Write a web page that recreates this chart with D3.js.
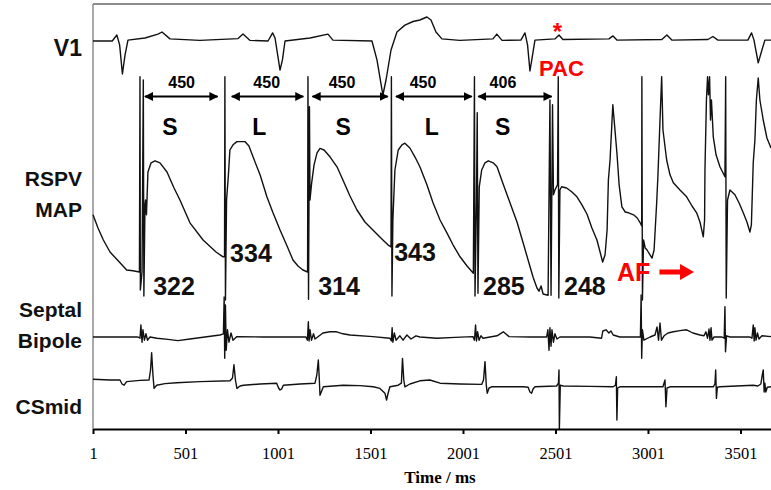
<!DOCTYPE html>
<html>
<head>
<meta charset="utf-8">
<script src="https://cdn.jsdelivr.net/npm/d3@7"></script>
<style>
    body { margin: 0; background: #fff; }
    .lbl { font-family: "Liberation Sans", Arial, sans-serif; font-weight: bold; }
    .axis text { font-family: "Liberation Serif", "Times New Roman", serif; font-weight: normal; }
    .axis-title { font-family: "Liberation Serif", "Times New Roman", serif; font-weight: bold; }
</style>
</head>
<body>
<div id="chart"></div>
<script>

/* * * * * * * * * * * * * *
*      Trace data (ms, mV)  *
* * * * * * * * * * * * * */

// surface ECG lead V1
const v1Trace = [[1,0],[105,0],[130,0.2],[145,-0.13],[160,-1.1],[174,-0.47],[190,0.03],[282,0.1],[352,0.23],[374,0.3],
    [417,0.07],[579,0.02],[785,0.08],[812,0.23],[850,0.02],[947,0],[972,0.27],[985,0.1],[1012,-0.97],[1025,-0.63],
    [1039,0],[1174,0.1],[1271,0.23],[1298,0.03],[1509,0],[1536,-0.63],[1568,-1.8],[1585,-1.3],[1612,-0.3],[1644,0.3],
    [1687,0.53],[1731,0.65],[1768,0.7],[1806,0.8],[1828,0.7],[1855,0.3],[1887,0.07],[1984,0.02],[2163,0.07],[2184,0.23],
    [2212,0.02],[2314,0.03],[2336,0.27],[2350,-0.13],[2363,-1.0],[2377,-0.47],[2390,0.03],[2498,0.07],[2520,0.2],[2541,0.05],
    [2790,0.07],[2812,0.17],[2833,0.03],[3076,0.05],[3103,0.2],[3130,0.03],[3325,0.05],[3352,0.15],[3379,0.03],[3541,0.03],
    [3561,0.27],[3574,0.03],[3597,-0.73],[3617,-0.3],[3633,0.03],[3666,0.03]];

// right superior pulmonary vein monophasic action potential
const mapTrace = [[1,1.43],[28,1.1],[57,0.8],[93,0.5],[147,0.23],[183,0.05],[217,0.03],[252,0],
    [255,4.88],[257,-0.45],[266,0],[273,4.8],[276,-0.6],[282,1.68],[285,1.8],[290,1.43],[298,2.5],[315,2.73],[336,2.78],
    [363,2.73],[401,2.5],[439,2.1],[471,1.8],[525,1.23],[596,0.8],[666,0.5],[704,0.38],[712,0.38],
    [714,4.88],[717,-0.7],[723,1.8],[733,2.43],[741,3.05],[758,3.18],[779,3.26],[822,3.26],[844,3.15],[866,2.88],
    [904,2.43],[941,1.88],[974,1.48],[1012,1.05],[1050,0.65],[1082,0.3],[1109,0.15],[1136,0.05],[1161,0],
    [1163,4.88],[1166,-0.68],[1171,4.13],[1174,1.8],[1183,2.23],[1196,2.68],[1212,2.98],[1228,3.09],[1250,3.05],
    [1282,2.88],[1320,2.63],[1352,2.3],[1390,1.9],[1428,1.55],[1471,1.25],[1514,1.05],[1557,0.85],[1595,0.68],[1612,0.63],
    [1614,4.88],[1617,-0.6],[1622,1.3],[1633,2.55],[1651,3.05],[1671,3.18],[1687,3.22],[1714,3.1],[1741,2.88],[1768,2.63],
    [1806,2.18],[1839,1.73],[1877,1.3],[1914,0.98],[1947,0.68],[1985,0.38],[2023,0.15],[2057,-0.03],
    [2063,4.88],[2066,-0.6],[2074,1.8],[2078,3.98],[2082,-0.53],[2089,2.13],[2102,2.55],[2120,2.73],[2138,2.78],
    [2164,2.73],[2185,2.63],[2218,2.2],[2255,1.73],[2293,1.25],[2326,0.73],[2353,0.3],[2380,-0.13],[2401,-0.4],
    [2412,-0.48],[2423,-0.35],[2434,-0.55],[2461,-0.58],[2471,4.3],[2477,-0.58],[2485,4.18],[2490,1.93],[2498,2.05],
    [2512,2.18],[2516,4.88],[2519,-0.65],[2525,2.05],[2534,2.13],[2561,2.1],[2590,2.0],[2617,1.88],[2644,1.68],
    [2671,1.45],[2698,1.1],[2725,0.8],[2742,0.5],[2756,0.25],[2769,0.43],[2780,1.05],[2787,2.3],[2796,2.8],[2811,4.18],
    [2818,3.8],[2833,2.98],[2845,2.18],[2860,1.63],[2878,1.5],[2896,1.48],[2923,1.43],[2943,1.35],[2959,1.23],[2967,1.15],
    [2968,4.88],[2971,-0.7],[2977,0.8],[2986,0.6],[2996,0.55],[3012,0.43],[3023,0.35],[3034,0.55],[3048,1.73],[3055,2.43],
    [3066,3.8],[3075,4.88],[3082,3.55],[3102,2.8],[3120,2.43],[3138,2.23],[3174,2.05],[3210,1.88],[3239,1.65],[3264,1.48],
    [3282,1.25],[3300,0.88],[3307,1.3],[3309,2.55],[3317,4.3],[3323,4.88],[3328,4.43],[3334,4.88],[3339,3.8],[3344,4.3],
    [3354,3.38],[3369,2.93],[3390,2.63],[3417,2.38],[3421,4.88],[3424,-0.65],[3431,1.8],[3444,2.05],[3471,1.93],
    [3493,1.73],[3516,1.48],[3536,1.25],[3552,1.0],[3560,1.18],[3570,2.73],[3579,3.3],[3587,4.3],[3597,4.85],[3606,4.3],
    [3624,3.8],[3644,3.35],[3666,3.1]];

// septal bipolar electrogram
const septalTrace = [[1,0],[174,0],[244,0],[255,-0.03],[260,0.3],[266,-0.13],[271,0.18],[279,-0.08],[287,0.08],[296,-0.08],
    [309,0],[347,-0.03],[406,-0.06],[460,-0.09],[525,-0.05],[606,0],[687,0.05],[706,0.08],[710,1.0],[713,-0.53],[717,0.8],
    [721,-0.33],[728,0.18],[736,-0.13],[747,0.1],[758,-0.08],[779,0.01],[920,0],[1066,0],[1152,0],[1160,-0.08],[1165,0.38],
    [1169,-0.1],[1174,0.18],[1182,-0.08],[1193,0.08],[1201,-0.05],[1244,0.1],[1282,0.13],[1318,0.13],[1352,0.08],[1390,0.05],
    [1514,0.01],[1606,-0.03],[1614,-0.1],[1618,0.23],[1622,-0.13],[1630,0.1],[1639,-0.08],[1660,0.03],[1677,-0.08],[1698,0.05],
    [1720,-0.05],[1747,0.03],[1768,0],[1860,-0.03],[1958,-0.01],[2055,0.01],[2063,-0.08],[2069,0.3],[2074,-0.1],[2080,0.13],
    [2088,-0.08],[2098,0.03],[2109,-0.03],[2185,0.03],[2219,0.13],[2250,0.01],[2364,0],[2453,0],[2460,0.18],[2466,-0.33],
    [2471,0.23],[2477,-0.23],[2482,0.18],[2490,-0.13],[2498,0.08],[2509,-0.05],[2525,0],[2687,0],[2750,-0.03],[2757,0.15],
    [2774,0.18],[2790,0.1],[2801,0.15],[2813,0.05],[2849,0],[2939,0],[2960,0],[2964,1.05],[2967,-0.53],[2971,0.18],
    [2979,-0.08],[3012,0],[3039,0.05],[3050,0.25],[3058,-0.08],[3066,0.35],[3074,-0.08],[3088,0.03],[3109,0.1],[3138,0.13],
    [3174,0.16],[3210,0.18],[3244,0.1],[3282,0.05],[3304,0.03],[3314,0.13],[3323,-0.03],[3331,0.2],[3336,-0.08],[3342,0.23],
    [3347,-0.08],[3358,0],[3401,0],[3413,-0.03],[3417,0.76],[3420,-0.37],[3426,0.03],[3444,0],[3552,0],[3563,-0.03],
    [3570,0.3],[3575,-0.1],[3579,0.23],[3585,-0.08],[3593,0.1],[3601,-0.05],[3617,0.03],[3666,0.01]];

// coronary sinus (mid) bipolar electrogram
const csTrace = [[1,0.07],[93,0.05],[147,0.05],[158,-0.05],[169,-0.08],[183,0.01],[255,0.04],[304,0.05],[312,0.3],[318,0.73],
    [325,0.18],[331,-0.16],[345,-0.08],[390,-0.04],[453,-0.02],[579,0.01],[742,0.03],[755,0.1],[763,0.43],[771,0.05],
    [779,-0.16],[796,-0.1],[815,-0.08],[904,-0.05],[994,-0.03],[1004,-0.15],[1012,-0.2],[1020,-0.18],[1030,-0.08],
    [1120,-0.05],[1201,-0.03],[1211,0.18],[1219,0.55],[1224,0.1],[1228,-0.33],[1246,-0.12],[1354,-0.08],[1444,-0.09],
    [1516,-0.12],[1552,-0.16],[1579,-0.28],[1588,-0.45],[1595,-0.3],[1606,-0.12],[1651,-0.08],[1668,-0.03],[1674,0.59],
    [1681,0.05],[1687,-0.12],[1714,-0.05],[1768,0.03],[1822,0.05],[1877,-0.03],[1985,-0.05],[2102,-0.06],[2112,0.05],
    [2120,0.51],[2127,-0.08],[2132,-0.28],[2142,-0.15],[2156,-0.12],[2327,-0.12],[2353,-0.13],[2363,-0.25],[2372,-0.28],
    [2379,-0.18],[2390,-0.12],[2507,-0.1],[2517,-0.03],[2520,0.3],[2522,-1.18],[2527,-0.08],[2543,-0.1],[2687,-0.11],
    [2813,-0.12],[2825,-0.08],[2830,0.13],[2833,-0.95],[2837,-0.15],[2849,-0.12],[3082,-0.12],[3093,0.05],[3098,-0.62],
    [3104,-0.15],[3120,-0.12],[3354,-0.12],[3363,-0.05],[3367,0.3],[3371,-0.41],[3376,-0.13],[3390,-0.12],[3570,-0.08],
    [3595,-0.1],[3611,-0.05],[3619,0.18],[3624,0.3],[3629,-0.25],[3633,-0.03],[3638,-0.25],[3646,-0.13],[3666,-0.12]];

// x axis ticks
const tickValues = [1, 501, 1001, 1501, 2001, 2501, 3001, 3501];

// paced cycles: arrow start/end (ms), cycle length, beat type, label times
const cycleArrows = [[282, 674], [751, 1138], [1188, 1594], [1639, 2048], [2084, 2480]];
const cycleLengths = [450, 450, 450, 450, 406];
const cycleLabelTimes = [480, 940, 1347, 1785, 2217];
const beatTypes = ["S", "L", "S", "L", "S"];
const beatTimes = [417, 900, 1354, 1832, 2216];

// action potential durations (ms) and where they are written (ms, mV on MAP scale)
const apdValues = [322, 334, 314, 343, 285, 248];
const apdTimes = [439, 855, 1331, 1742, 2222, 2660];
const apdLevels = [-0.35, 0.48, -0.35, 0.5, -0.35, -0.35];


class TraceVis {

    constructor(parentElement) {
        this.parentElement = parentElement;
        this.initVis();
    }

    initVis() {
        let vis = this;

        vis.width = 771;
        vis.height = 490;
        vis.margin = {top: 4, right: 0, bottom: 61, left: 93};
        vis.axisY = vis.height - vis.margin.bottom;

        vis.svg = d3.select("#" + vis.parentElement).append("svg")
            .attr("width", vis.width)
            .attr("height", vis.height);

        vis.x = d3.scaleLinear()
            .domain([1, 3666])
            .range([vis.margin.left, vis.width]);

        // one vertical scale per channel: baseline pixel and px per mV
        vis.channels = [
            {label: ["V1"], data: v1Trace, base: 41, gain: 30, labelY: [48], size: 23},
            {label: ["RSPV", "MAP"], data: mapTrace, base: 272, gain: 40, labelY: [179, 210], size: 21},
            {label: ["Septal", "Bipole"], data: septalTrace, base: 337, gain: 40, labelY: [310, 341], size: 21},
            {label: ["CSmid"], data: csTrace, base: 382, gain: 40, labelY: [407], size: 21}
        ];
        vis.channels.forEach(c => {
            c.y = d3.scaleLinear().domain([0, 1]).range([c.base, c.base - c.gain]);
        });

        vis.defs = vis.svg.append("defs");
        vis.defs.append("marker")
            .attr("id", "head")
            .attr("viewBox", "0 0 10 10")
            .attr("refX", 9).attr("refY", 5)
            .attr("markerWidth", 4.5).attr("markerHeight", 4.5)
            .attr("orient", "auto-start-reverse")
            .append("path")
            .attr("d", "M0,0L10,5L0,10Z")
            .attr("fill", "#000");

        vis.updateVis();
    }

    updateVis() {
        let vis = this;

        // frame: top line and left axis
        vis.svg.append("line")
            .attr("x1", vis.margin.left).attr("x2", vis.width)
            .attr("y1", vis.margin.top).attr("y2", vis.margin.top)
            .attr("stroke", "#8c8c8c").attr("stroke-width", 2);
        vis.svg.append("line")
            .attr("x1", vis.margin.left).attr("x2", vis.margin.left)
            .attr("y1", vis.margin.top).attr("y2", vis.axisY)
            .attr("stroke", "#8c8c8c").attr("stroke-width", 1.5);

        // traces
        vis.channels.forEach(c => {
            let line = d3.line()
                .x(d => vis.x(d[0]))
                .y(d => c.y(d[1]));
            vis.svg.append("path")
                .datum(c.data)
                .attr("d", line)
                .attr("fill", "none")
                .attr("stroke", "#111")
                .attr("stroke-width", 1.4)
                .attr("stroke-linejoin", "round");

            // channel labels
            vis.svg.selectAll(null)
                .data(c.label)
                .join("text")
                .attr("class", "lbl")
                .attr("x", 82)
                .attr("y", (d, i) => c.labelY[i])
                .attr("dy", "0.35em")
                .attr("text-anchor", "end")
                .attr("font-size", c.size)
                .attr("fill", "#111")
                .text(d => d);
        });

        // x axis
        vis.xAxisGroup = vis.svg.append("g")
            .attr("class", "axis x-axis")
            .attr("transform", `translate(0, ${vis.axisY})`)
            .call(d3.axisBottom(vis.x)
                .tickValues(tickValues)
                .tickFormat(d => d)
                .tickSize(5)
                .tickSizeOuter(0)
                .tickPadding(13));
        vis.xAxisGroup.select(".domain")
            .attr("stroke", "#000").attr("stroke-width", 2);
        vis.xAxisGroup.selectAll(".tick line")
            .attr("stroke", "#000").attr("stroke-width", 2);
        vis.xAxisGroup.selectAll(".tick text")
            .attr("font-family", null)
            .attr("font-size", 16.5)
            .attr("fill", "#000");

        vis.svg.append("text")
            .attr("class", "axis-title")
            .attr("x", 440)
            .attr("y", 477)
            .attr("dy", "0.35em")
            .attr("text-anchor", "middle")
            .attr("font-size", 17)
            .text("Time / ms");

        let map = vis.channels[1];

        // cycle length arrows
        vis.svg.selectAll(".cycle-arrow")
            .data(cycleArrows)
            .join("line")
            .attr("class", "cycle-arrow")
            .attr("x1", d => vis.x(d[0]))
            .attr("x2", d => vis.x(d[1]))
            .attr("y1", 96.5).attr("y2", 96.5)
            .attr("stroke", "#000")
            .attr("stroke-width", 2)
            .attr("marker-start", "url(#head)")
            .attr("marker-end", "url(#head)");

        vis.svg.selectAll(".cycle-label")
            .data(cycleLengths)
            .join("text")
            .attr("class", "lbl cycle-label")
            .attr("x", (d, i) => vis.x(cycleLabelTimes[i]))
            .attr("y", 82)
            .attr("dy", "0.35em")
            .attr("text-anchor", "middle")
            .attr("font-size", 16)
            .text(d => d);

        vis.svg.selectAll(".beat-label")
            .data(beatTypes)
            .join("text")
            .attr("class", "lbl beat-label")
            .attr("x", (d, i) => vis.x(beatTimes[i]))
            .attr("y", 127)
            .attr("dy", "0.35em")
            .attr("text-anchor", "middle")
            .attr("font-size", 23)
            .text(d => d);

        // APD values
        vis.svg.selectAll(".apd-label")
            .data(apdValues)
            .join("text")
            .attr("class", "lbl apd-label")
            .attr("x", (d, i) => vis.x(apdTimes[i]))
            .attr("y", (d, i) => map.y(apdLevels[i]))
            .attr("dy", "0.35em")
            .attr("text-anchor", "middle")
            .attr("font-size", 25)
            .attr("fill", "#111")
            .text(d => d);

        // red annotations
        vis.svg.append("text")
            .attr("class", "lbl")
            .attr("x", vis.x(2511)).attr("y", 40)
            .attr("text-anchor", "middle")
            .attr("font-size", 24)
            .attr("fill", "#f00")
            .text("*");
        vis.svg.append("text")
            .attr("class", "lbl")
            .attr("x", vis.x(2533)).attr("y", 68)
            .attr("dy", "0.35em")
            .attr("text-anchor", "middle")
            .attr("font-size", 22)
            .attr("fill", "#f00")
            .text("PAC");
        vis.svg.append("text")
            .attr("class", "lbl")
            .attr("x", vis.x(2923)).attr("y", map.y(0))
            .attr("dy", "0.35em")
            .attr("text-anchor", "middle")
            .attr("font-size", 25)
            .attr("fill", "#f00")
            .text("AF");
        let ax0 = vis.x(3063), ax1 = vis.x(3250), ay = map.y(0);
        vis.svg.append("path")
            .attr("d", `M${ax0},${ay - 2.5}H${ax1 - 14}V${ay - 8}L${ax1},${ay}L${ax1 - 14},${ay + 8}V${ay + 2.5}H${ax0}Z`)
            .attr("fill", "#f00");
    }
}

let traceVis = new TraceVis("chart");

</script>
</body>
</html>
